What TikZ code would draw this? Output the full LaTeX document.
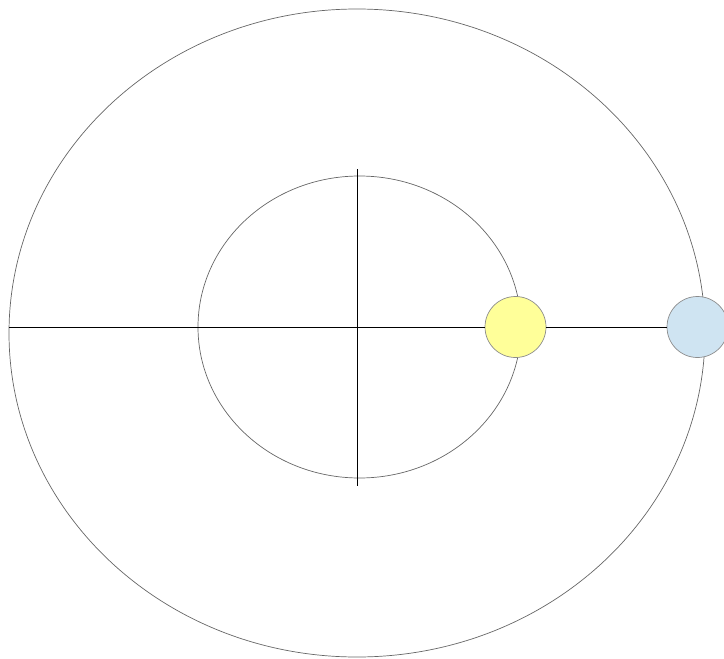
\documentclass[tikz,border=0pt]{standalone}
\usepackage{xcolor}
\usepackage{tikz}
\usetikzlibrary{positioning}

\definecolor{sunfill}{HTML}{FFFF99}
\definecolor{earthfill}{HTML}{CFE4F2}

\begin{document}
\begin{tikzpicture}[
    x=1pt,y=-1pt,
    orbit/.style={draw=black!60,line width=0.7pt},
    axis/.style={draw=black,line width=0.9pt},
    body/.style={circle,draw=black!45,line width=0.7pt,inner sep=0pt,minimum size=61pt}
  ]
    \useasboundingbox (0,0) rectangle (724,659);
    \draw[orbit] (357,333) ellipse [x radius=348,y radius=324];
    \draw[orbit] (359.5,327) ellipse [x radius=161.5,y radius=151];
    \coordinate (west) at (9,327);
    \coordinate (north) at (357,169);
    \coordinate (south) at (357,486);
    \node[body,fill=sunfill] (sun) at (515.5,327) {};
    \node[body,fill=earthfill] (earth) at (697.5,327) {};
    \draw[axis] (west) -- (sun);
    \draw[axis] (sun) -- (earth);
    \draw[axis] (north) -- (south);
  \end{tikzpicture}
\end{document}
